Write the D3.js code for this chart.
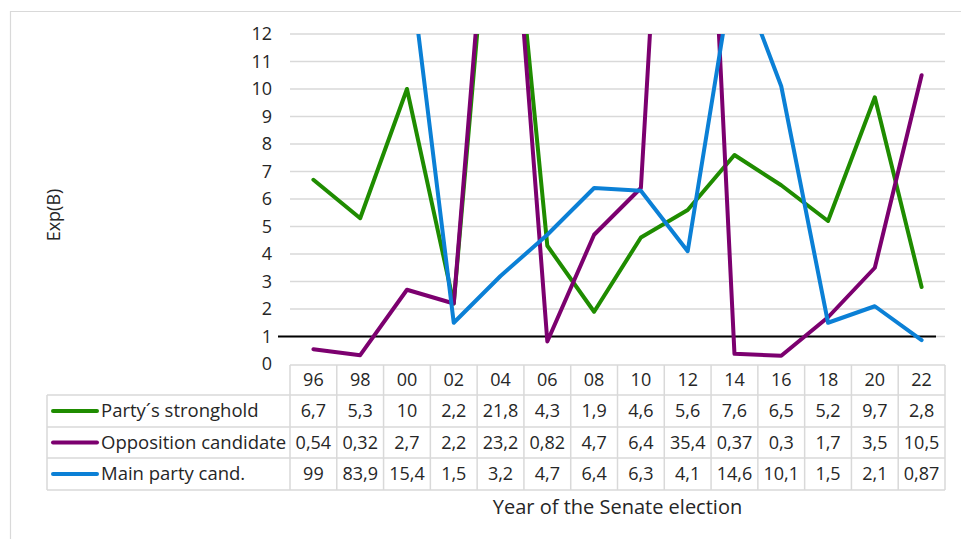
<!DOCTYPE html>
<html>
<head>
<meta charset="utf-8">
<script src="https://cdn.jsdelivr.net/npm/d3@7"></script>
<style>
  html, body { margin: 0; padding: 0; background: #fff; }
  svg { display: block; font-family: "Open Sans", sans-serif; }
</style>
</head>
<body>
<svg id="chart" width="961" height="539"></svg>
<script>
// Election years (two-digit) and Exp(B) per predictor
const years = ["96", "98", "00", "02", "04", "06", "08", "10", "12", "14", "16", "18", "20", "22"];
const stronghold = [6.7, 5.3, 10, 2.2, 21.8, 4.3, 1.9, 4.6, 5.6, 7.6, 6.5, 5.2, 9.7, 2.8];
const opposition = [0.54, 0.32, 2.7, 2.2, 23.2, 0.82, 4.7, 6.4, 35.4, 0.37, 0.3, 1.7, 3.5, 10.5];
const mainParty = [99, 83.9, 15.4, 1.5, 3.2, 4.7, 6.4, 6.3, 4.1, 14.6, 10.1, 1.5, 2.1, 0.87];
const yTicks = [0, 1, 2, 3, 4, 5, 6, 7, 8, 9, 10, 11, 12];
const referenceValue = 1;

const series = [
  { name: "Party\u00b4s stronghold", values: stronghold, color: "#1f8c00" },
  { name: "Opposition candidate", values: opposition, color: "#7c006f" },
  { name: "Main party cand.", values: mainParty, color: "#0b80d6" }
];

const svg = d3.select("#chart");
const plot = { left: 290, right: 945, top: 34, bottom: 364 };
const table = { left: 47, headTop: 365, rows: [395, 427, 458, 490] };
const gridColor = "#d9d9d9";
const textColor = "#262626";
const fontFamily = "'Open Sans', sans-serif";

const x = d3.scaleBand().domain(years).range([plot.left, plot.right]);
const y = d3.scaleLinear().domain([0, 12]).range([plot.bottom, plot.top]);

// outer chart frame
svg.append("path")
  .attr("d", `M10.5,539 V11.5 H961`)
  .attr("fill", "none").attr("stroke", gridColor).attr("stroke-width", 1.2);

// horizontal gridlines
svg.append("g").selectAll("line")
  .data(yTicks.filter(t => t > 0))
  .join("line")
  .attr("x1", plot.left).attr("x2", plot.right)
  .attr("y1", d => y(d)).attr("y2", d => y(d))
  .attr("stroke", gridColor).attr("stroke-width", 1.3);

// y axis labels
const yAxis = d3.axisLeft(y).tickValues(yTicks).tickSize(0).tickPadding(18).tickFormat(d3.format("d"));
const gy = svg.append("g").attr("transform", `translate(${plot.left},0)`).call(yAxis);
gy.select(".domain").remove();
gy.selectAll("text").attr("fill", textColor).style("font-size", "18px")
  .style("font-family", fontFamily);

// reference line at Exp(B) = 1
svg.append("line")
  .attr("x1", 278).attr("x2", 936)
  .attr("y1", y(referenceValue)).attr("y2", y(referenceValue))
  .attr("stroke", "#000").attr("stroke-width", 2);

// clipped series lines
svg.append("clipPath").attr("id", "plotClip")
  .append("rect")
  .attr("x", plot.left - 10).attr("y", plot.top)
  .attr("width", plot.right - plot.left + 20).attr("height", plot.bottom - plot.top + 10);

const line = d3.line()
  .x((d, i) => x(years[i]) + x.bandwidth() / 2)
  .y(d => y(d));

svg.append("g").attr("clip-path", "url(#plotClip)")
  .selectAll("path")
  .data(series)
  .join("path")
  .attr("d", s => line(s.values))
  .attr("fill", "none")
  .attr("stroke", s => s.color)
  .attr("stroke-width", 4)
  .attr("stroke-linejoin", "round")
  .attr("stroke-linecap", "round");

// data table
const tableG = svg.append("g");
function hline(x1, x2, yy) {
  tableG.append("line").attr("x1", x1).attr("x2", x2).attr("y1", yy).attr("y2", yy)
    .attr("stroke", gridColor).attr("stroke-width", 1.5);
}
function vline(xx, y1, y2) {
  tableG.append("line").attr("x1", xx).attr("x2", xx).attr("y1", y1).attr("y2", y2)
    .attr("stroke", gridColor).attr("stroke-width", 1.5);
}
hline(plot.left, plot.right, table.headTop);
table.rows.forEach(r => hline(table.left, plot.right, r));
years.forEach(yr => vline(x(yr), table.headTop, table.rows[3]));
vline(plot.right, table.headTop, table.rows[3]);
vline(table.left, table.rows[0], table.rows[3]);

// header: years
tableG.selectAll("text.year")
  .data(years)
  .join("text")
  .attr("class", "year")
  .attr("x", d => x(d) + x.bandwidth() / 2)
  .attr("y", (table.headTop + table.rows[0]) / 2)
  .attr("dy", "0.35em")
  .attr("text-anchor", "middle")
  .attr("fill", textColor)
  .style("font-size", "18px")
  .text(d => d);

const fmt = v => String(v).replace(".", ",");

series.forEach((s, si) => {
  const top = table.rows[si], bot = table.rows[si + 1];
  const cy = (top + bot) / 2;
  tableG.append("line")
    .attr("x1", 53).attr("x2", 97).attr("y1", cy).attr("y2", cy)
    .attr("stroke", s.color).attr("stroke-width", 4).attr("stroke-linecap", "round");
  tableG.append("text")
    .attr("x", 101).attr("y", cy).attr("dy", "0.35em")
    .attr("fill", textColor).style("font-size", "18.5px")
    .text(s.name);
  tableG.selectAll(null)
    .data(s.values)
    .join("text")
    .attr("x", (d, i) => x(years[i]) + x.bandwidth() / 2)
    .attr("y", cy).attr("dy", "0.35em")
    .attr("text-anchor", "middle")
    .attr("fill", textColor)
    .style("font-size", "18px")
    .text(d => fmt(d));
});

// axis titles
svg.append("text")
  .attr("transform", `translate(60,215) rotate(-90)`)
  .attr("text-anchor", "middle")
  .attr("fill", textColor)
  .style("font-size", "18px")
  .text("Exp(B)");

svg.append("text")
  .attr("x", (plot.left + plot.right) / 2)
  .attr("y", 514)
  .attr("text-anchor", "middle")
  .attr("fill", textColor)
  .style("font-size", "20px")
  .text("Year of the Senate election");
</script>
</body>
</html>
